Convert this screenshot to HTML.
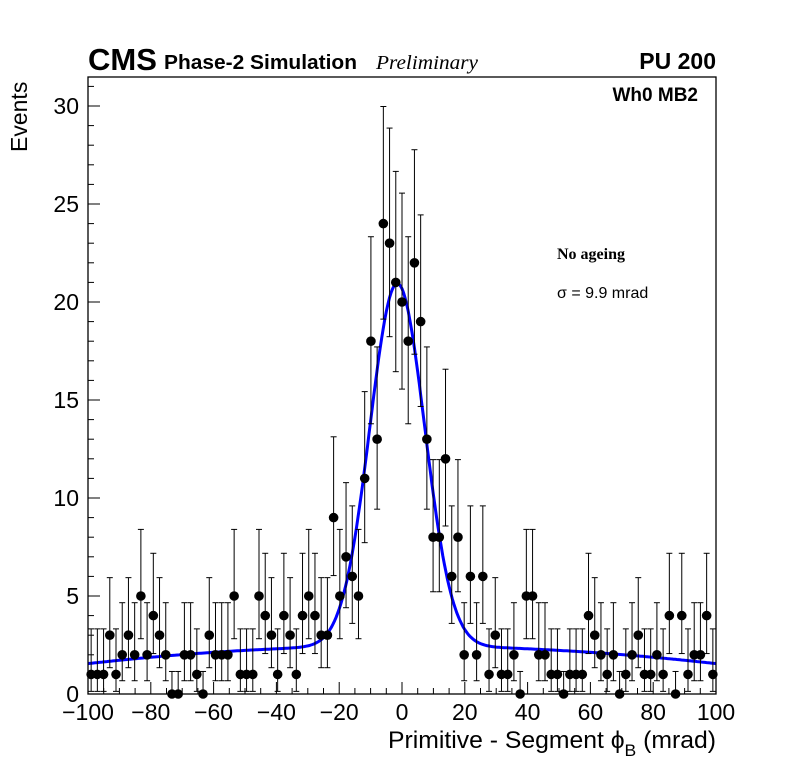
<!DOCTYPE html>
<html><head><meta charset="utf-8"><style>
html,body{margin:0;padding:0;background:#fff;}
svg{display:block;font-family:"Liberation Sans",sans-serif;}
</style></head><body>
<svg id="chart" width="796" height="772" viewBox="0 0 796 772" xmlns="http://www.w3.org/2000/svg">
<rect x="0" y="0" width="796" height="772" fill="#fff"/>
<g id="ticks"></g>
<g id="curve"></g>
<g id="points"></g>
<rect x="88" y="77" width="628" height="617" fill="none" stroke="#000" stroke-width="1.3"/>
<g id="labels"></g>
<text x="716" y="748" text-anchor="end" font-size="24" textLength="328" lengthAdjust="spacingAndGlyphs">Primitive - Segment ϕ<tspan font-size="17" dy="8">B</tspan><tspan dy="-8"> (mrad)</tspan></text>
<text transform="translate(27,152) rotate(-90)" font-size="23">Events</text>
<text x="88" y="70" font-size="31" font-weight="bold">CMS</text>
<text x="164" y="69" font-size="20" font-weight="bold" textLength="193" lengthAdjust="spacingAndGlyphs">Phase-2 Simulation</text>
<text x="376" y="69" font-size="20" font-style="italic" font-family="Liberation Serif, serif" textLength="102" lengthAdjust="spacingAndGlyphs">Preliminary</text>
<text x="716" y="69" text-anchor="end" font-size="23" font-weight="bold">PU 200</text>
<text x="698" y="101" text-anchor="end" font-size="19" font-weight="bold">Wh0 MB2</text>
<text x="557" y="259" font-size="16" font-weight="bold" font-family="Liberation Serif, serif">No ageing</text>
<text x="557" y="298" font-size="16">σ = 9.9 mrad</text>
</svg>
<script>
const counts = [1,1,1,3,1,2,3,2,5,2,4,3,2,0,0,2,2,1,0,3,2,2,2,5,1,1,1,5,4,3,1,4,3,1,4,5,4,3,3,9,5,7,6,5,11,18,13,24,23,21,20,18,22,19,13,8,8,12,6,8,2,6,2,6,1,3,1,1,2,0,5,5,2,2,1,1,0,1,1,1,4,3,2,1,2,0,1,2,3,1,1,2,1,4,0,4,1,2,2,4,1];
const xRange = [-99, 99];
const xTicks = [-100,-80,-60,-40,-20,0,20,40,60,80,100];
const yTicks = [0,5,10,15,20,25,30];
const fitMean = [-1.5];
const fitSigma = [8.7];
const fitAmp = [18.5];
const bgParams = [2.45, 0.9];

const NS='http://www.w3.org/2000/svg';
const X0=88,X1=716,Y0=694,Y1=106;
const xs=v=>X0+(v+100)/200*(X1-X0);
const ys=v=>Y0-v/30*(Y0-Y1);
function mk(t,a,p){const e=document.createElementNS(NS,t);for(const k in a)e.setAttribute(k,a[k]);p.appendChild(e);return e;}
const gT=document.getElementById('ticks'),gL=document.getElementById('labels'),gP=document.getElementById('points'),gC=document.getElementById('curve');

for(let v=-100;v<=100;v+=5){const L=(v%20===0)?12:6;const t=mk('line',{x1:xs(v),x2:xs(v),y1:Y0,y2:Y0-L,stroke:'#000','stroke-width':1},gT);

}
for(let v=0;v<=31;v+=1){const L=(v%5===0)?12:6;const t=mk('line',{x1:X0,x2:X0+L,y1:ys(v),y2:ys(v),stroke:'#000','stroke-width':1},gT);

}
xTicks.forEach(v=>{const t=mk('text',{x:xs(v),y:720,'text-anchor':'middle','font-size':23},gL);t.textContent=(v<0?'\u2212'+(-v):String(v));

});
yTicks.forEach(v=>{const t=mk('text',{x:79,y:ys(v)+8,'text-anchor':'end','font-size':23},gL);t.textContent=String(v);

});

const n=counts.length;
counts.forEach((c,i)=>{
  const cx=xs(xRange[0]+i*(xRange[1]-xRange[0])/(n-1));
  let up,lo;
  if(c===0){up=1.15;lo=0;}else{up=c+1+Math.sqrt(c+0.75);lo=Math.max(0,c-Math.sqrt(c-0.25));}
  const g=mk('g',{},gP);
  
  
  mk('line',{x1:cx,x2:cx,y1:ys(up),y2:ys(lo),stroke:'#000','stroke-width':1},g);
  mk('line',{x1:cx-3,x2:cx+3,y1:ys(up),y2:ys(up),stroke:'#000','stroke-width':1},g);
  if(c>0)mk('line',{x1:cx-3,x2:cx+3,y1:ys(lo),y2:ys(lo),stroke:'#000','stroke-width':1},g);
  mk('circle',{cx:cx,cy:ys(c),r:4.8,fill:'#000'},g);
});

let d='';
for(let x=-100;x<=100;x+=0.5){
  const bg=bgParams[0]-bgParams[1]*(x/100)*(x/100);
  const y=bg+fitAmp[0]*Math.exp(-Math.pow(x-fitMean[0],2)/(2*fitSigma[0]*fitSigma[0]));
  d+=(d?'L':'M')+xs(x).toFixed(1)+','+ys(y).toFixed(1);
}
const p=mk('path',{d:d,fill:'none',stroke:'#0000ff','stroke-width':3},gC);


</script>
</body></html>
